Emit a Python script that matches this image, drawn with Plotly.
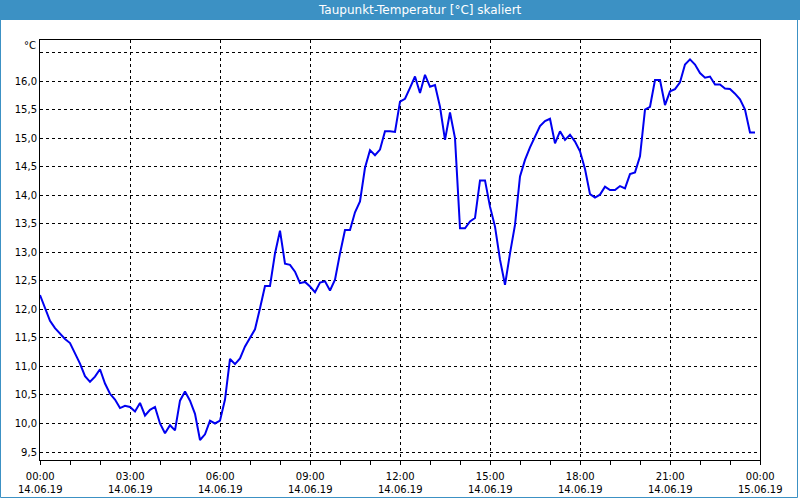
import plotly.graph_objects as go
import pandas as pd

# ---- data (10-minute dew point readings, 14.06.19) ----
start_time = "2019-06-14 00:00"
step_minutes = 10
dewpoint = [
    12.25, 12.02, 11.80, 11.67, 11.58, 11.48, 11.41, 11.23, 11.05, 10.83,
    10.73, 10.82, 10.95, 10.70, 10.52, 10.42, 10.27, 10.31, 10.29, 10.21,
    10.36, 10.14, 10.24, 10.29, 10.00, 9.83, 9.97, 9.88, 10.40, 10.56,
    10.40, 10.17, 9.71, 9.81, 10.05, 10.00, 10.05, 10.42, 11.13, 11.04,
    11.14, 11.35, 11.49, 11.65, 12.02, 12.41, 12.41, 12.98, 13.38, 12.80,
    12.78, 12.66, 12.46, 12.48, 12.40, 12.30, 12.47, 12.49, 12.33, 12.52,
    12.98, 13.39, 13.39, 13.70, 13.89, 14.48, 14.79, 14.70, 14.80, 15.12,
    15.12, 15.11, 15.64, 15.69, 15.88, 16.08, 15.79, 16.11, 15.90, 15.93,
    15.55, 14.97, 15.45, 15.00, 13.42, 13.42, 13.54, 13.60, 14.26, 14.26,
    13.80, 13.45, 12.87, 12.43, 12.98, 13.48, 14.33, 14.62, 14.84, 15.03,
    15.21, 15.30, 15.34, 14.91, 15.12, 14.97, 15.06, 14.94, 14.77, 14.46,
    14.02, 13.96, 14.01, 14.15, 14.09, 14.09, 14.16, 14.12, 14.37, 14.40,
    14.68, 15.50, 15.55, 16.02, 16.02, 15.58, 15.82, 15.86, 15.98, 16.29,
    16.38, 16.29, 16.14, 16.06, 16.08, 15.94, 15.94, 15.87, 15.86, 15.78,
    15.68, 15.50, 15.10, 15.10,
]
times = pd.date_range(start_time, periods=len(dewpoint), freq=f"{step_minutes}min")

x_tick_vals = ["2019-06-14 00:00", "2019-06-14 03:00", "2019-06-14 06:00", "2019-06-14 09:00",
               "2019-06-14 12:00", "2019-06-14 15:00", "2019-06-14 18:00", "2019-06-14 21:00",
               "2019-06-15 00:00"]
x_tick_text = ["00:00<br>14.06.19", "03:00<br>14.06.19", "06:00<br>14.06.19", "09:00<br>14.06.19",
               "12:00<br>14.06.19", "15:00<br>14.06.19", "18:00<br>14.06.19", "21:00<br>14.06.19",
               "00:00<br>15.06.19"]
y_tick_vals = [9.5, 10.0, 10.5, 11.0, 11.5, 12.0, 12.5, 13.0, 13.5, 14.0, 14.5, 15.0, 15.5, 16.0, 16.5]
y_tick_text = ["9,5", "10,0", "10,5", "11,0", "11,5", "12,0", "12,5", "13,0", "13,5", "14,0",
               "14,5", "15,0", "15,5", "16,0", ""]
title_text = "Taupunkt-Temperatur [°C] skaliert"
unit_text = "°C"

FONT = "DejaVu Sans"
W, H = 800, 500
ML, MR, MT, MB = 40, 40, 40, 40
PW, PH = W - ML - MR, H - MT - MB

def px_x(p):
    return (p - ML) / PW

def px_y(p):
    return 1 - (p - MT) / PH

fig = go.Figure()
fig.add_trace(go.Scatter(x=times, y=dewpoint, mode="lines",
                         line=dict(color="#0000f0", width=2), hoverinfo="skip"))

bar_color = "#3c91c4"
fig.add_shape(type="rect", xref="paper", yref="paper", x0=px_x(-2), x1=px_x(802),
              y0=px_y(20), y1=px_y(-2), fillcolor=bar_color, line=dict(width=0), layer="above")
# window frame
fig.add_shape(type="line", xref="paper", yref="paper", x0=px_x(0.5), x1=px_x(0.5),
              y0=px_y(20), y1=px_y(497.5), line=dict(color=bar_color, width=1))
fig.add_shape(type="line", xref="paper", yref="paper", x0=px_x(797.5), x1=px_x(797.5),
              y0=px_y(20), y1=px_y(497.5), line=dict(color=bar_color, width=1))
fig.add_shape(type="line", xref="paper", yref="paper", x0=px_x(0.5), x1=px_x(797.5),
              y0=px_y(497.5), y1=px_y(497.5), line=dict(color=bar_color, width=1))

fig.add_annotation(text=title_text, xref="paper", yref="paper", x=px_x(420), y=px_y(10),
                   xanchor="center", yanchor="middle", showarrow=False,
                   font=dict(family=FONT, size=12, color="white"))
fig.add_annotation(text=unit_text, xref="paper", yref="paper", x=px_x(38), y=px_y(46),
                   xanchor="right", yanchor="middle", showarrow=False,
                   font=dict(family=FONT, size=10, color="black"))

# x tick labels (two lines) placed below the axis
for tv, tt in zip(x_tick_vals, x_tick_text):
    fig.add_annotation(text=tt, x=tv, xref="x", yref="paper", y=px_y(469),
                       xanchor="center", yanchor="top", showarrow=False,
                       font=dict(family=FONT, size=10, color="black"))

fig.update_layout(
    width=W, height=H,
    margin=dict(l=ML, r=MR, t=MT, b=MB, autoexpand=False),
    paper_bgcolor="white", plot_bgcolor="white",
    showlegend=False,
    font=dict(family=FONT, size=10, color="black"),
)
fig.update_xaxes(
    type="date", range=["2019-06-14 00:00", "2019-06-15 00:00"],
    tickmode="array", tickvals=x_tick_vals, showticklabels=False,
    ticks="outside", ticklen=4, tickcolor="black",
    automargin=False,
    minor=dict(dtick=3600000, ticks="outside", ticklen=4, tickcolor="black", showgrid=False),
    showgrid=True, gridcolor="black", gridwidth=1, griddash="3px,3px",
    showline=True, linecolor="black", linewidth=1, mirror=True, zeroline=False,
)
fig.update_yaxes(
    range=[9.36, 16.72], automargin=False,
    tickmode="array", tickvals=y_tick_vals, ticktext=y_tick_text,
    ticks="", showgrid=True, gridcolor="black", gridwidth=1, griddash="3px,3px",
    showline=True, linecolor="black", linewidth=1, mirror=True, zeroline=False,
)

fig.write_html("out.html")
